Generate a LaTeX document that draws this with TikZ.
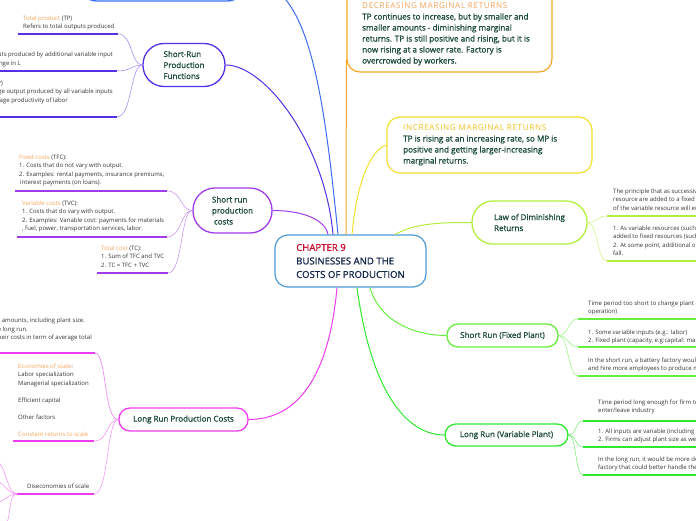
\documentclass[tikz,border=0pt]{standalone}
\usepackage{fontspec}
\setmainfont{Open Sans}
\newfontfamily\semibf{Open Sans}[FakeBold=1.2]
\newfontfamily\hdrfont{Open Sans}[LetterSpace=8]
\definecolor{dkgreen}{HTML}{1F4E3D}
\definecolor{txtgray}{HTML}{333333}
\definecolor{orlbl}{HTML}{F5A45A}
\definecolor{inclbl}{HTML}{F0C020}
\definecolor{chred}{HTML}{C8102E}
\definecolor{navy}{HTML}{14284B}
\definecolor{ctrblue}{HTML}{4A9AD6}
\definecolor{topblue}{HTML}{3D6DF5}
\definecolor{bviolet}{HTML}{5530E8}
\definecolor{purp}{HTML}{A03CEB}
\definecolor{mag}{HTML}{EE3CEE}
\definecolor{orng}{HTML}{F5A623}
\definecolor{yell}{HTML}{F2E12A}
\definecolor{lime}{HTML}{B4EE3C}
\definecolor{grn1}{HTML}{66EE3C}
\definecolor{grn2}{HTML}{2EE82E}
\begin{document}
\begin{tikzpicture}[x=1pt,y=-1pt,
  pill/.style={draw, line width=1.3pt, fill=white, inner sep=0, align=left, font=\semibf\fontsize{8}{11}\selectfont, text=dkgreen},
  small/.style={font=\fontsize{6}{8.5}\selectfont, text=txtgray, inner sep=0, align=left, anchor=base west},
  smallr/.style={small, anchor=base east},
  boxtxt/.style={font=\semibf\fontsize{8.1}{11}\selectfont, text=dkgreen, inner sep=0, align=left, anchor=base west},
  conn/.style={line width=1pt},
  ul/.style={line width=1.8pt},
  twig/.style={line width=0.5pt},
]
\useasboundingbox (0,0) rectangle (696,520);
\clip (0,0) rectangle (696,520);

% ---------- nodes ----------
\node[draw=ctrblue, line width=1.2pt, fill=white, rounded corners=13pt, minimum width=151, minimum height=52, inner sep=0, align=left, font=\semibf\fontsize{9.6}{13.5}\selectfont, text=navy] (ctr) at (350.5,261) {\textcolor{chred}{CHAPTER 9}\\BUSINESSES AND THE\\COSTS OF PRODUCTION};

\node[draw=topblue, line width=1.3pt, rounded corners=20pt, minimum width=170, minimum height=42] (topn) at (162,-20) {};

\node[pill, draw=bviolet, rounded corners=21pt, minimum width=82, minimum height=43] (srpf) at (184,65) {Short-Run\\Production\\Functions};
\node[pill, draw=purp, rounded corners=22pt, minimum width=79, minimum height=45] (src) at (232.5,210.5) {Short run\\production\\\hspace{2pt}costs};
\node[pill, draw=mag, rounded corners=11pt, minimum width=129, minimum height=23] (lrpc) at (183.5,419.5) {Long Run Production Costs};
\node[pill, draw=lime, rounded corners=21pt, minimum width=115, minimum height=43] (law) at (529.5,222.5) {Law of Diminishing\\Returns};
\node[pill, draw=grn1, rounded corners=11pt, minimum width=111, minimum height=23] (srf) at (502.5,335.5) {Short Run (Fixed Plant)};
\node[pill, draw=grn2, rounded corners=11pt, minimum width=123, minimum height=22] (lrv) at (506.5,435) {Long Run (Variable Plant)};

\node[draw=orng, line width=1.2pt, fill=white, rounded corners=13pt, minimum width=205, minimum height=102] (dec) at (449.5,21) {};
\node[boxtxt] (dectxt) at (362,63.5) {\textcolor{orlbl}{\hdrfont DECREASING MARGINAL RETURNS}\\
TP continues to increase, but by smaller and\\
smaller amounts - diminishing marginal\\
returns. TP is still positive and rising, but it is\\
now rising at a slower rate. Factory is\\
overcrowded by workers.};

\node[draw=yell, line width=1.2pt, fill=white, rounded corners=13pt, minimum width=205, minimum height=56] (inc) at (489.5,145) {};
\node[boxtxt] (inctxt) at (403,163.5) {\textcolor{inclbl}{\hdrfont INCREASING MARGINAL RETURNS}\\
TP is rising at an increasing rate, so MP is\\
positive and getting larger-increasing\\
marginal returns.};

% ---------- main connectors ----------
\draw[conn, bviolet] (srpf.east) .. controls +(40,0) and +(-8,-90) .. ([xshift=-17.5pt]ctr.north);
\draw[conn, topblue] ([xshift=-12.5pt]ctr.north) .. controls +(-15,-150) and +(60,0) .. (topn.east);
\draw[conn, purp] (src.east) .. controls +(30,0) and +(-3,-15) .. ([xshift=-22.5pt]ctr.north);
\draw[conn, orng] ([xshift=-4.5pt]ctr.north) -- ([yshift=13pt]dec.south west);
\draw[conn, yell] ([xshift=1.5pt]ctr.north) .. controls +(5,-55) and +(-15,5) .. (inc.west);
\draw[conn, lime] ([xshift=45pt]ctr.north) .. controls +(20,-12) and +(-25,0) .. (law.west);
\draw[conn, grn1] ([xshift=19.5pt]ctr.south) .. controls +(10,35) and +(-30,0) .. (srf.west);
\draw[conn, grn2] ([xshift=6.5pt]ctr.south) .. controls +(15,110) and +(-35,0) .. (lrv.west);
\draw[conn, mag] ([xshift=-13.5pt]ctr.south) .. controls +(-10,110) and +(35,0) .. (lrpc.east);

% ---------- Short-Run Production Functions children ----------
\node[small] (tp) at (23,28.5) {\textcolor{orlbl}{Total product} (TP)\\Refers to total outputs produced};
\coordinate (tpa) at (18,34); \coordinate (tpb) at (118,34);
\draw[ul, bviolet] (tpa) -- (tpb);
\draw[twig, bviolet!60] (tpb) .. controls +(15,0) and +(-12,0) .. (srpf.west);

\node[smallr] (mp1) at (113,56) {Marginal product: Extra outputs produced by additional variable input};
\node[smallr] (mp2) at (21,65) {Change in TP / change in L};
\coordinate (mpa) at (-5,71); \coordinate (mpb) at (117,71);
\draw[ul, bviolet] (mpa) -- (mpb);
\draw[twig, bviolet!60] (mpb) .. controls +(15,0) and +(-12,0) .. (srpf.west);

\node[smallr] (ap1) at (3,85) {Average product (AP)};
\node[smallr] (ap2) at (113,93) {Average output produced by all variable inputs};
\node[smallr] (ap3) at (68,102) {Average productivity of labor};
\coordinate (apa) at (-5,117); \coordinate (apb) at (117,117);
\draw[ul, bviolet] (apa) -- (apb);
\draw[twig, bviolet!60] (apb) .. controls +(15,0) and +(-12,0) .. (srpf.west);

% ---------- Short run production costs children ----------
\node[small] (fc) at (19,184.5) {\textcolor{orlbl}{Fixed costs} (TFC):\\1. Costs that do not vary with output.\\2. Examples: rental payments, insurance premiums,\\\hspace{1pt}interest payments (on loans).};
\coordinate (fca) at (15,191); \coordinate (fcb) at (167,191);
\draw[ul, purp] (fca) -- (fcb);
\draw[twig, purp!60] (fcb) .. controls +(15,0) and +(-12,0) .. (src.west);

\node[small] (vc) at (22,230.5) {\textcolor{orlbl}{Variable costs} (TVC):\\1. Costs that do vary with output.\\2. Examples: Variable cost: payments for materials\\, fuel, power, transportation services, labor.};
\coordinate (vca) at (17,237); \coordinate (vcb) at (167,237);
\draw[ul, purp] (vca) -- (vcb);
\draw[twig, purp!60] (vcb) .. controls +(15,0) and +(-12,0) .. (src.west);

\node[small] (tc) at (101,267) {\textcolor{orlbl}{Total cost} (TC):\\1. Sum of TFC and TVC\\2. TC = TFC + TVC};
\coordinate (tca) at (97,273); \coordinate (tcb) at (168,273);
\draw[ul, purp] (tca) -- (tcb);
\draw[twig, purp!60] (tcb) .. controls +(15,0) and +(-12,0) .. (src.west);

% ---------- Long Run Production Costs children ----------
\node[smallr] (lr1) at (85,322) {Long run: all inputs can be varied in different amounts, including plant size.};
\node[smallr] (lr2) at (28,331) {Firms can enter and exit in the long run.};
\node[smallr] (lr3) at (92,339.5) {Firms can compare their costs in term of average total};
\coordinate (lra) at (-5,353); \coordinate (lrb) at (95,353);
\draw[ul, mag] (lra) -- (lrb);
\draw[line width=0.7pt, mag!60] (lrb) .. controls +(12,0) and +(-15,0) .. (lrpc.west);

\node[small] (eco) at (18,436) {\textcolor{orlbl}{Economies of scale}:\\Labor specialization\\Managerial specialization\\~\\Efficient capital\\~\\Other factors\\~\\\textcolor{orlbl}{Constant returns to scale}};
\coordinate (ecoa) at (13,441); \coordinate (ecob) at (94,441);
\draw[ul, mag] (ecoa) -- (ecob);
\draw[twig, mag!60] (ecob) .. controls +(15,0) and +(-12,0) .. (lrpc.west);

\node[small] (dis) at (27,488) {Diseconomies of scale};
\coordinate (disa) at (17,494); \coordinate (disb) at (94,494);
\draw[ul, mag] (disa) -- (disb);
\draw[twig, mag!60] (disb) .. controls +(15,0) and +(-12,0) .. (lrpc.west);
\coordinate (d1) at (-3,462); \coordinate (d2) at (-3,482);
\coordinate (d3) at (-3,502); \coordinate (d4) at (4,524);
\foreach \d in {d1,d2,d3,d4}{
  \draw[twig, mag!60] (disa) .. controls +(-10,0) and +(8,0) .. (\d);
}

% ---------- Law of Diminishing Returns children ----------
\node[small] (lw1) at (613,210) {The principle that as successive units of a variable\\resource are added to a fixed resource, the marginal\\of the variable resource will eventually decline.};
\coordinate (lwa) at (607,216); \coordinate (lwb) at (700,216);
\draw[ul, lime] (lwa) -- (lwb);
\draw[twig, lime!70] (law.east) .. controls +(10,0) and +(-10,0) .. (lwa);

\node[small] (lw2) at (613,255.5) {1. As variable resources (such as workers) are\\added to fixed resources (such as machinery),\\2. At some point, additional output will begin to\\fall.};
\coordinate (lwc) at (607,261); \coordinate (lwd) at (700,261);
\draw[ul, lime] (lwc) -- (lwd);
\draw[twig, lime!70] (law.east) .. controls +(10,0) and +(-10,0) .. (lwc);

% ---------- Short Run (Fixed Plant) children ----------
\node[small] (sf1) at (588,313.5) {Time period too short to change plant capacity (plant / firm in\\operation)};
\coordinate (sfa) at (578,319); \coordinate (sfb) at (700,319);
\draw[ul, grn1] (sfa) -- (sfb);
\draw[twig, grn1!70] (srf.east) .. controls +(10,0) and +(-10,0) .. (sfa);

\node[small] (sf2) at (588,342.5) {1. Some variable inputs (e.g.: labor)\\2. Fixed plant (capacity, e.g:capital: machinery)};
\coordinate (sfc) at (578,347); \coordinate (sfd) at (700,347);
\draw[ul, grn1] (sfc) -- (sfd);
\draw[twig, grn1!70] (srf.east) .. controls +(10,0) and +(-10,0) .. (sfc);

\node[small] (sf3) at (588,370.5) {In the short run, a battery factory would add shifts\\and hire more employees to produce more};
\coordinate (sfe) at (578,376); \coordinate (sff) at (700,376);
\draw[ul, grn1] (sfe) -- (sff);
\draw[twig, grn1!70] (srf.east) .. controls +(10,0) and +(-10,0) .. (sfe);

% ---------- Long Run (Variable Plant) children ----------
\node[small] (lv1) at (598,412.5) {Time period long enough for firm to change all inputs,\\enter/leave industry};
\coordinate (lva) at (583,421); \coordinate (lvb) at (700,421);
\draw[ul, grn2] (lva) -- (lvb);
\draw[twig, grn2!70] (lrv.east) .. controls +(8,0) and +(-8,0) .. (lva);

\node[small] (lv2) at (598,441.5) {1. All inputs are variable (including the plant)\\2. Firms can adjust plant size as well};
\coordinate (lvc) at (583,447); \coordinate (lvd) at (700,447);
\draw[ul, grn2] (lvc) -- (lvd);
\draw[twig, grn2!70] (lrv.east) .. controls +(8,0) and +(-8,0) .. (lvc);

\node[small] (lv3) at (598,469.5) {In the long run, it would be more desirable to build a\\factory that could better handle the demand};
\coordinate (lve) at (583,475); \coordinate (lvf) at (700,475);
\draw[ul, grn2] (lve) -- (lvf);
\draw[twig, grn2!70] (lrv.east) .. controls +(8,0) and +(-8,0) .. (lve);
\end{tikzpicture}
\end{document}
